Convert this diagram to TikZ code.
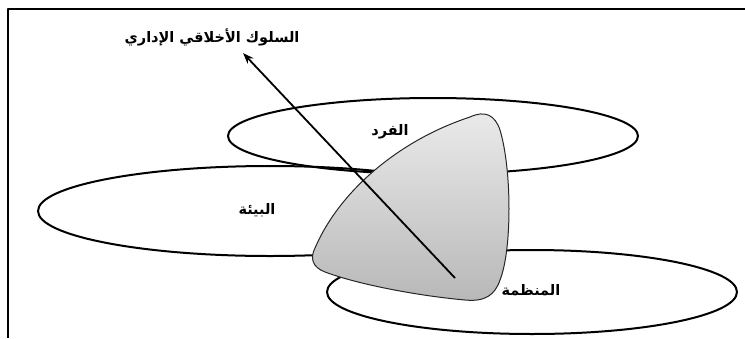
\documentclass[tikz,border=0pt]{standalone}
\usepackage{fontspec}
\newfontfamily\arabicfont[Script=Arabic, BoldFont={DejaVu Sans Bold}]{DejaVu Sans}
\TeXXeTstate=1
\usetikzlibrary{arrows.meta}
\tikzset{
  ring/.style={draw=black, line width=2pt},
  label/.style={font=\arabicfont\bfseries\fontsize{14.5}{16}\selectfont, inner sep=1pt}
}
\begin{document}
\begin{tikzpicture}[x=1pt, y=-1pt, line join=round]
  \useasboundingbox (0,0) rectangle (745,338);
  % Định nghĩa màu
  \colorlet{shapetop}{black!8}
  \colorlet{shapebottom}{black!28}

  % khung
  \draw[line width=2.8pt] (8,338) -- (8,9) -- (745,9);

  % ba vòng elip
  \draw[ring] (433,136) ellipse [x radius=205, y radius=38];
  \draw[ring] (270,211) ellipse [x radius=232, y radius=45];
  \draw[ring] (532,292) ellipse [x radius=205, y radius=42];

  % hình cong ở giữa
  \shade[top color=shapetop, bottom color=shapebottom, draw=black!85, line width=1pt]
    (470,117) .. controls (485,110) and (495,115) .. (500,130)
    .. controls (512,170) and (512,250) .. (500,280)
    .. controls (495,295) and (485,302) .. (465,300)
    .. controls (420,296) and (360,285) .. (325,272)
    .. controls (312,267) and (310,258) .. (315,248)
    .. controls (340,190) and (400,140) .. (470,117) -- cycle;

  % nhãn
  \node[label] (ind) at (390,132) {\beginR الفرد\endR};
  \node[label] (env) at (257,210) {\beginR البيئة\endR};
  \node[label] (org) at (531,290) {\beginR المنظمة\endR};
  \node[label] (beh) at (212,37) {\beginR السلوك الأخلاقي الإداري\endR};

  % mũi tên
  \coordinate (base) at (455,278);
  \coordinate (tip) at (243,53);
  \draw[line width=1.8pt, -{Stealth[length=11pt, width=8pt]}] (base) -- (tip);
\end{tikzpicture}
\end{document}
